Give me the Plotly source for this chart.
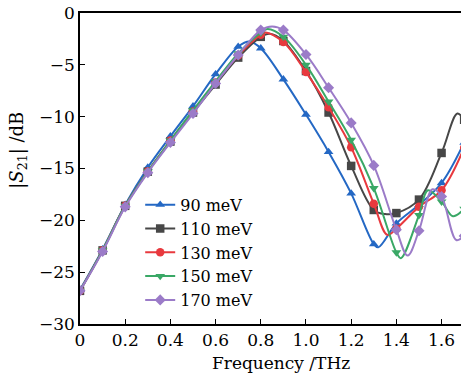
import plotly.graph_objects as go

# ---- data ----
freq = [0.0, 0.1, 0.2, 0.3, 0.4, 0.5, 0.6, 0.7, 0.8, 0.9, 1.0, 1.1, 1.2, 1.3, 1.4, 1.5, 1.6, 1.7]
s90 = [-26.7, -22.8, -18.5, -14.9, -11.9, -9.0, -5.9, -3.25, -3.4, -6.4, -9.8, -13.4, -17.4, -22.3, -20.3, -18.5, -16.4, -12.5]
s110 = [-26.8, -22.9, -18.6, -15.3, -12.4, -9.6, -6.9, -4.3, -2.3, -2.7, -5.6, -9.6, -14.75, -19.0, -19.3, -18.0, -13.5, -10.3]
s130 = [-26.8, -22.9, -18.6, -15.3, -12.3, -9.5, -6.7, -4.1, -2.1, -2.8, -5.7, -9.1, -12.95, -18.4, -20.8, -18.7, -17.1, -13.0]
s150 = [-26.8, -22.9, -18.6, -15.3, -12.3, -9.4, -6.6, -3.9, -1.9, -2.3, -5.0, -8.55, -12.25, -16.9, -23.1, -19.5, -18.2, -18.9]
s170 = [-26.8, -23.0, -18.7, -15.4, -12.5, -9.7, -6.8, -4.05, -1.65, -1.65, -4.0, -7.2, -10.6, -14.7, -20.9, -21.0, -17.7, -21.5]

# extra curve points (extrema read between the markers)
e90_x = [0.75, 1.32]
e90_y = [-2.75, -22.6]
e110_x = [0.84, 1.35, 1.67]
e110_y = [-2.0, -19.4, -9.7]
e130_x = [0.82, 1.36]
e130_y = [-1.87, -21.4]
e150_x = [0.83, 1.42, 1.54, 1.65]
e150_y = [-1.55, -23.65, -17.1, -19.6]
e170_x = [0.85, 1.45, 1.56, 1.665]
e170_y = [-1.3, -23.4, -17.0, -21.9]

labels = ["90 meV", "110 meV", "130 meV", "150 meV", "170 meV"]
xtick_vals = [0, 0.2, 0.4, 0.6, 0.8, 1.0, 1.2, 1.4, 1.6]
xtick_text = ["0", "0.2", "0.4", "0.6", "0.8", "1.0", "1.2", "1.4", "1.6"]
ytick_vals = [0, -5, -10, -15, -20, -25, -30]

colors = ["#2468c4", "#474747", "#e8393e", "#3aa866", "#9b7bc8"]
symbols = ["triangle-up", "square", "circle", "triangle-down", "diamond"]
series = [(s90, e90_x, e90_y), (s110, e110_x, e110_y), (s130, e130_x, e130_y),
          (s150, e150_x, e150_y), (s170, e170_x, e170_y)]

FONT = "DejaVu Serif"
fig = go.Figure()

for (vals, ex, ey), name, col, sym in zip(series, labels, colors, symbols):
    pts = sorted(list(zip(freq, vals)) + list(zip(ex, ey)))
    fig.add_trace(go.Scatter(x=[p[0] for p in pts], y=[p[1] for p in pts], mode="lines",
                             line=dict(color=col, width=2, shape="spline", smoothing=1),
                             showlegend=False, hoverinfo="skip"))
    fig.add_trace(go.Scatter(x=freq, y=vals, mode="markers",
                             marker=dict(symbol=sym, size=8.5, color=col),
                             showlegend=False))
    fig.add_trace(go.Scatter(x=[None], y=[None], mode="lines+markers", name=name,
                             line=dict(color=col, width=2),
                             marker=dict(symbol=sym, size=8.5, color=col)))

fig.add_annotation(text="Frequency /THz", xref="x", yref="paper", x=0.89, y=-0.125,
                   showarrow=False, font=dict(family=FONT, size=17, color="black"),
                   xanchor="center", yanchor="middle")
fig.add_annotation(text="|<i>S</i><sub>21</sub>| /dB", xref="paper", yref="paper",
                   x=-0.163, y=0.56, textangle=-90, showarrow=False,
                   font=dict(family=FONT, size=18, color="black"),
                   xanchor="center", yanchor="middle")

fig.update_layout(
    width=461, height=375,
    margin=dict(l=80, r=0, t=13, b=51),
    paper_bgcolor="white", plot_bgcolor="white",
    font=dict(family=FONT, size=17, color="black"),
    legend=dict(x=0.158, y=0.438, xanchor="left", yanchor="top",
                bgcolor="rgba(0,0,0,0)", font=dict(family=FONT, size=16),
                tracegroupgap=0, itemwidth=30),
    xaxis=dict(range=[0, 1.686], tickvals=xtick_vals, ticktext=xtick_text,
               showline=True, linecolor="black", linewidth=1.5, mirror=True,
               ticks="inside", ticklen=5, tickcolor="black", tickwidth=1.2,
               showgrid=False, zeroline=False,
               tickfont=dict(family=FONT, size=17)),
    yaxis=dict(range=[-30, 0], tickvals=ytick_vals,
               showline=True, linecolor="black", linewidth=1.5,
               ticks="inside", ticklen=5, tickcolor="black", tickwidth=1.2,
               showgrid=False, zeroline=False,
               tickfont=dict(family=FONT, size=17)),
)

fig.write_html("out.html")
